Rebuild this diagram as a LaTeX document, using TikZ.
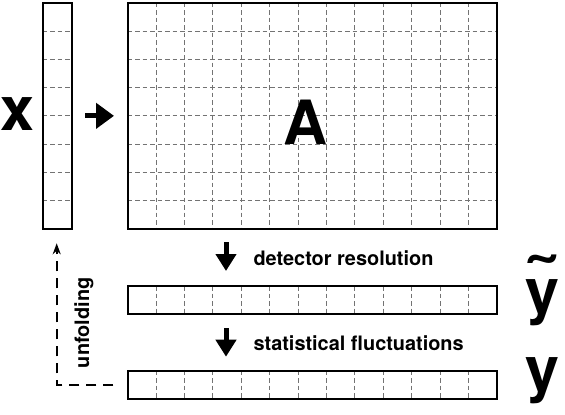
\documentclass[tikz,border=0pt]{standalone}
\usepackage{fontspec}
\setmainfont{TeX Gyre Heros}
\usetikzlibrary{arrows.meta,calc}

\begin{document}
\begin{tikzpicture}[x=1pt,y=-1pt,
		box/.style={draw=black,line width=1.6pt,fill=white,inner sep=0pt,outer sep=0pt},
		gridline/.style={draw=black!55,line width=0.8pt,dash pattern=on 4.5pt off 3pt},
		lbl/.style={font=\fontsize{19.9}{22}\selectfont\bfseries,inner sep=0pt},
		big/.style={font=\fontsize{61}{64}\selectfont\bfseries,inner sep=0pt},
		fat/.style={line width=5pt,-{Triangle[width=20pt,length=17pt]}},
		unfold/.style={line width=2.3pt,dash pattern=on 10pt off 7pt,-{Stealth[length=11pt,width=8pt]}}]
	\useasboundingbox (0,0) rectangle (565,415);
	
	%Shape: Rectangle [x vector]
	\node[box,minimum width=29pt,minimum height=226.3pt] (xvec) at (57.2,115.85) {};
	%Shape: Rectangle [matrix A]
	\node[box,minimum width=369pt,minimum height=226.3pt] (Amat) at (312.2,115.85) {};
	%Shape: Rectangle [y tilde]
	\node[box,minimum width=369pt,minimum height=28pt] (ytil) at (312.2,300) {};
	%Shape: Rectangle [y]
	\node[box,minimum width=369pt,minimum height=28.3pt] (yvec) at (312.2,384.85) {};
	
	%Grid lines
	\foreach \i in {1,...,7}{
		\draw[gridline] ($(xvec.north west)!\i/8!(xvec.south west)$) -- ($(xvec.north east)!\i/8!(xvec.south east)$);
		\draw[gridline] ($(Amat.north west)!\i/8!(Amat.south west)$) -- ($(Amat.north east)!\i/8!(Amat.south east)$);
	}
	\foreach \b in {Amat,ytil,yvec}{
		\foreach \j in {1,...,12}
		\draw[gridline] ($(\b.north west)!\j/13!(\b.north east)$) -- ($(\b.south west)!\j/13!(\b.south east)$);
		\draw[line width=1.6pt] (\b.north west) rectangle (\b.south east);
	}
	\draw[line width=1.6pt] (xvec.north west) rectangle (xvec.south east);
	
	%Straight Lines [arrows]
	\draw[fat,-{Triangle[width=25pt,length=18pt]}] ($(xvec.east)+(13.3,0)$) -- ($(Amat.west)+(-13.7,0)$);
	\draw[fat] ($(Amat.south west)+(98.3,13)$) -- ($(ytil.north west)+(98.3,-15)$);
	\draw[fat] ($(ytil.south west)+(98.3,14)$) -- ($(yvec.north west)+(98.3,-14)$);
	
	%Straight Lines [unfolding]
	\coordinate (ufrom) at ($(yvec.west)+(-14.4,0)$);
	\coordinate (uto) at ($(xvec.south)+(-0.5,14.3)$);
	\draw[unfold] (ufrom) -| (uto);
	
	% Text Node
	\node[big,anchor=base] (xlab) at (17.7,130) {x};
	% Text Node
	\node[big,anchor=base] (Alab) at (306,144.3) {A};
	% Text Node
	\node[lbl,anchor=base west] (detres) at (253.3,265) {detector resolution};
	% Text Node
	\node[lbl,anchor=base west] (statfl) at (253.3,350) {statistical fluctuations};
	% Text Node
	\node[lbl,rotate=90,anchor=base west] (unf) at (89,368.3) {unfolding};
	% Text Node
	\node[big,anchor=base] (ytlab) at (542.5,312.5) {\ooalign{y\cr\hidewidth\raisebox{8pt}{\scalebox{1.35}[1.1]{˜}}\hidewidth\cr}};
	% Text Node
	\node[big,anchor=base] (ylab) at (542.5,390.8) {y};
	
\end{tikzpicture}
\end{document}
